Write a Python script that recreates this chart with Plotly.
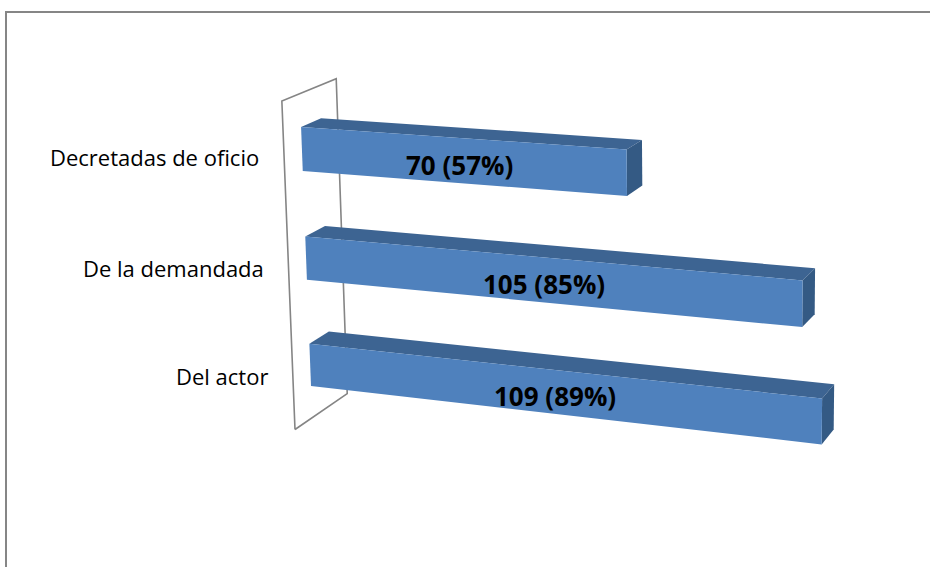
import plotly.graph_objects as go

# Data (bottom to top, as drawn)
categories = ["Del actor", "De la demandada", "Decretadas de oficio"]
values = [109, 105, 70]
percent = [89, 85, 57]

W, H = 930, 567

# --- 3D view: perspective projection of (value, category, depth) onto the page ---
ORIGIN = (295.0, 429.5)          # value 0, category floor, front of wall
A_X = 0.000752                   # perspective along the value axis
U_X = (5480.0 * A_X, 275.0 * A_X)
V_Y = (-7.2, -110.5)             # one category band
B_Y = -0.01
T_Z = (67.95, -18.12)            # full wall depth
G_Z = 0.0453

BAR_THICK = 0.4                  # gap width 150%
Z_FRONT, Z_BACK = 0.32, 0.69     # bar depth inside the wall


def proj(x, y, z):
    w = 1.0 - A_X * x + B_Y * y + G_Z * z
    px = ORIGIN[0] + x * U_X[0] + y * V_Y[0] + z * T_Z[0]
    py = ORIGIN[1] + x * U_X[1] + y * V_Y[1] + z * T_Z[1]
    return px / w, py / w


def poly(pts3d, color, line_color=None, width=0):
    xs, ys = zip(*[proj(*p) for p in pts3d])
    xs = list(xs) + [xs[0]]
    ys = list(ys) + [ys[0]]
    if line_color is None:
        return go.Scatter(x=xs, y=ys, mode="lines", fill="toself",
                          fillcolor=color, line=dict(width=0, color=color),
                          hoverinfo="skip", showlegend=False)
    return go.Scatter(x=xs, y=ys, mode="lines",
                      line=dict(width=width, color=line_color),
                      hoverinfo="skip", showlegend=False)


fig = go.Figure()

# side wall outline at value 0
n = len(categories)
fig.add_trace(poly([(0, 0, 0), (0, n, 0), (0, n, 1), (0, 0, 1)],
                   None, line_color="#858585", width=1.6))

FRONT = "#4F81BD"
TOP = "#3D6492"
SIDE = "#345A84"

annotations = []
for i, (cat, val, pc) in enumerate(zip(categories, values, percent)):
    yc = i + 0.5
    y0, y1 = yc - BAR_THICK / 2, yc + BAR_THICK / 2
    z0, z1 = Z_FRONT, Z_BACK
    # top face
    fig.add_trace(poly([(0, y1, z0), (val, y1, z0), (val, y1, z1), (0, y1, z1)], TOP))
    # end face
    fig.add_trace(poly([(val, y0, z0), (val, y1, z0), (val, y1, z1), (val, y0, z1)], SIDE))
    # front face
    fig.add_trace(poly([(0, y0, z0), (val, y0, z0), (val, y1, z0), (0, y1, z0)], FRONT))

    # value label on the front face
    lx, ly = proj(val / 2, yc, z0)
    annotations.append(dict(x=lx, y=ly, xref="x", yref="y", showarrow=False,
                            text=f"<b>{val} ({pc}%)</b>", yshift=-4,
                            font=dict(family="Open Sans", size=26, color="#000000"),
                            xanchor="center", yanchor="middle"))
    # category label beside the wall
    cx, cy = proj(0, yc, 0)
    annotations.append(dict(x=cx, y=cy, xref="x", yref="y", showarrow=False,
                            text=cat, xshift=-23,
                            font=dict(family="Open Sans", size=22, color="#000000"),
                            xanchor="right", yanchor="middle"))

fig.update_layout(
    width=W, height=H,
    margin=dict(l=0, r=0, t=0, b=0),
    paper_bgcolor="white", plot_bgcolor="white",
    xaxis=dict(range=[0, W], visible=False, fixedrange=True),
    yaxis=dict(range=[H, 0], visible=False, fixedrange=True),
    annotations=annotations,
    shapes=[
        dict(type="line", xref="x", yref="y", x0=6, y0=H, x1=6, y1=12,
             line=dict(color="#868686", width=2)),
        dict(type="line", xref="x", yref="y", x0=5, y0=12, x1=W, y1=12,
             line=dict(color="#868686", width=2)),
    ],
)

fig.write_html("out.html")
